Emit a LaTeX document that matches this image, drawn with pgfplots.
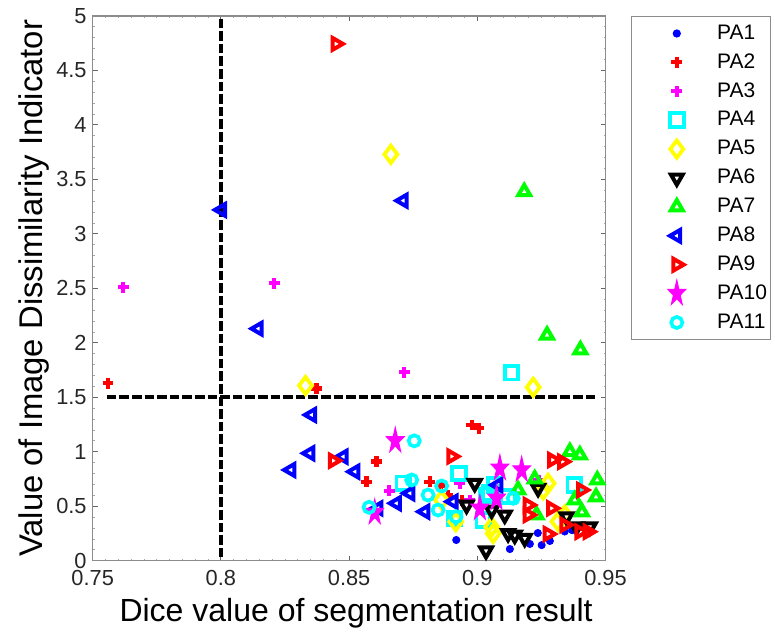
\documentclass[border=0pt]{standalone}
\usepackage{fontspec}
\setmainfont{Liberation Sans}
\usepackage{pgfplots}
\pgfplotsset{compat=1.18}
\definecolor{mblue}{rgb}{0,0,1}
\definecolor{mred}{rgb}{1,0,0}
\definecolor{mmag}{rgb}{1,0,1}
\definecolor{mcyan}{rgb}{0,1,1}
\definecolor{myel}{rgb}{1,1,0}
\definecolor{mgreen}{rgb}{0,1,0}
\pgfdeclareplotmark{fstar}{%
  \pgfpathmoveto{\pgfpointpolar{90}{\pgfplotmarksize}}%
  \pgfpathlineto{\pgfpointpolar{126}{0.382\pgfplotmarksize}}%
  \pgfpathlineto{\pgfpointpolar{162}{\pgfplotmarksize}}%
  \pgfpathlineto{\pgfpointpolar{198}{0.382\pgfplotmarksize}}%
  \pgfpathlineto{\pgfpointpolar{234}{\pgfplotmarksize}}%
  \pgfpathlineto{\pgfpointpolar{270}{0.382\pgfplotmarksize}}%
  \pgfpathlineto{\pgfpointpolar{306}{\pgfplotmarksize}}%
  \pgfpathlineto{\pgfpointpolar{342}{0.382\pgfplotmarksize}}%
  \pgfpathlineto{\pgfpointpolar{18}{\pgfplotmarksize}}%
  \pgfpathlineto{\pgfpointpolar{54}{0.382\pgfplotmarksize}}%
  \pgfpathclose
  \pgfusepathqfillstroke
}
\begin{document}
\begin{tikzpicture}
\begin{axis}[
  scale only axis, width=256.4pt, height=272.35pt,
  xmin=0.75, xmax=0.95, ymin=0, ymax=5,
  xtick={0.75,0.8,0.85,0.9,0.95},
  xticklabels={0.75,0.8,0.85,0.9,0.95},
  ytick={0,0.5,1,1.5,2,2.5,3,3.5,4,4.5,5},
  yticklabels={0,0.5,1,1.5,2,2.5,3,3.5,4,4.5,5},
  minor x tick num=9, minor y tick num=4,
  tick align=inside, major tick length=2.5pt, minor tick length=1pt,
  axis line style={black!45, line width=0.6pt},
  major tick style={black!60, line width=0.5pt},
  minor tick style={black!35, line width=0.4pt},
  tick label style={font=\fontsize{10.9}{12}\selectfont, text=black!85},
  xticklabel style={anchor=base, yshift=-12.65pt},
  yticklabel style={anchor=east, inner sep=0pt, xshift=-2.85pt},
  xlabel={Dice value of segmentation result},
  ylabel={Value of Image Dissimilarity Indicator},
  xlabel style={at={(axis description cs:0.5,0)}, anchor=base, yshift=-30.5pt, xshift=3.5pt, font=\fontsize{16}{19}\selectfont},
  ylabel style={at={(axis description cs:-0.0975,0.5)}, anchor=base, font=\fontsize{16.4}{19}\selectfont},
  legend style={at={(1,1)}, anchor=north west, xshift=12.6pt,
    draw=black!45, line width=0.5pt, inner xsep=1.5pt, inner ysep=1.5pt,
    row sep=0.45pt, column sep=11.5pt, nodes={inner sep=0pt},
    font=\fontsize{10.5}{12}\selectfont},
  legend cell align=left,
  legend image code/.code={\path[draw=none,fill=none] (0pt,-7pt) rectangle (30pt,7pt); \draw[#1] plot coordinates {(21.3pt,0pt)};},
]
\coordinate (SW) at (rel axis cs:0,0);
\addplot[only marks, mblue, mark=*, mark size=1.8pt] coordinates {
(0.8918,0.19)(0.9127,0.107)(0.9205,0.154)(0.9236,0.254)(0.9251,0.143)(0.9283,0.181)(0.9341,0.268)(0.9370,0.28)};
\addplot[only marks, mred, mark=+, mark size=2.7pt, line width=2.1pt] coordinates {
(0.7560,1.63)(0.8373,1.58)(0.8607,0.91)(0.8568,0.725)(0.8815,0.725)(0.8978,1.245)(0.9006,1.215)(0.8886,0.60)(0.8858,0.69)(0.8940,0.55)};
\addplot[only marks, mmag, mark=+, mark size=2.7pt, line width=2.1pt] coordinates {
(0.7619,2.51)(0.8208,2.546)(0.8715,1.73)(0.8656,0.643)(0.8932,0.71)(0.9240,0.74)(0.8970,0.557)};
\addplot[only marks, mcyan, mark=square, mark size=3.4pt, line width=1.9pt] coordinates {
(0.9133,1.725)(0.8929,0.80)(0.8711,0.71)(0.8912,0.39)(0.9068,0.695)(0.9023,0.374)(0.9036,0.60)(0.9120,0.59)(0.9378,0.695)(0.9050,0.62)};
\addplot[only marks, myel, mark=diamond, mark size=4.3pt, line width=1.9pt] coordinates {
(0.8663,3.73)(0.8330,1.607)(0.9218,1.592)(0.8860,0.557)(0.8916,0.358)(0.9062,0.25)(0.9056,0.31)(0.9276,0.71)(0.9257,0.65)(0.9341,0.42)(0.9315,0.36)};
\addplot[only marks, black, mark=triangle, mark size=3.4pt, line width=2pt, mark options={rotate=180}] coordinates {
(0.8990,0.71)(0.8958,0.51)(0.9034,0.092)(0.9056,0.465)(0.9107,0.42)(0.9120,0.25)(0.9146,0.235)(0.9185,0.206)(0.9237,0.665)(0.9348,0.404)(0.9439,0.312)(0.9387,0.312)};
\addplot[only marks, mgreen, mark=triangle, mark size=3.4pt, line width=2pt] coordinates {
(0.9183,3.387)(0.9272,2.07)(0.9402,1.935)(0.9361,1.0)(0.9400,0.97)(0.9468,0.74)(0.9463,0.585)(0.9380,0.557)(0.9408,0.447)(0.9224,0.75)(0.9159,0.65)(0.9231,0.42)};
\addplot[only marks, mblue, mark=triangle, mark size=3.4pt, line width=2pt, mark options={rotate=90}] coordinates {
(0.8003,3.22)(0.8146,2.13)(0.8711,3.305)(0.8354,1.338)(0.8347,0.986)(0.8273,0.833)(0.8477,0.955)(0.8523,0.817)(0.8737,0.619)(0.8685,0.527)(0.8613,0.481)(0.8796,0.45)(0.8906,0.542)(0.9081,0.695)};
\addplot[only marks, mred, mark=triangle, mark size=3.4pt, line width=2pt, mark options={rotate=-90}] coordinates {
(0.8449,4.744)(0.8438,0.918)(0.8900,0.957)(0.9293,0.925)(0.9332,0.909)(0.9406,0.649)(0.9198,0.511)(0.9198,0.42)(0.9289,0.481)(0.9341,0.328)(0.9276,0.245)(0.9400,0.266)(0.9432,0.266)};
\addplot[only marks, mmag, mark=fstar, mark size=5.8pt, line width=0.5pt, mark options={xscale=0.8, yscale=1.15}] coordinates {
(0.8680,1.10)(0.8600,0.442)(0.9088,0.848)(0.9173,0.833)(0.9075,0.573)(0.9010,0.481)};
\addplot[only marks, mcyan, mark=o, mark size=2.8pt, line width=1.8pt] coordinates {
(0.8754,1.10)(0.8744,0.741)(0.8861,0.686)(0.8808,0.603)(0.8578,0.49)(0.8847,0.465)(0.8917,0.404)(0.9140,0.573)};
\addplot[forget plot, black, line width=2pt, dash pattern=on 4.8pt off 1.5pt] coordinates {(0.8,0.03)(0.8,4.97)};
\addplot[forget plot, black, line width=2pt, dash pattern=on 4.8pt off 1.5pt] coordinates {(0.7555,1.5)(0.9469,1.5)};
\legend{PA1,PA2,PA3,PA4,PA5,PA6,PA7,PA8,PA9,PA10,PA11}
\end{axis}
\pgfresetboundingbox
\path[use as bounding box] (SW) ++(-46.35pt,-37.15pt) rectangle ++(387.5pt,317.5pt);
\end{tikzpicture}
\end{document}
